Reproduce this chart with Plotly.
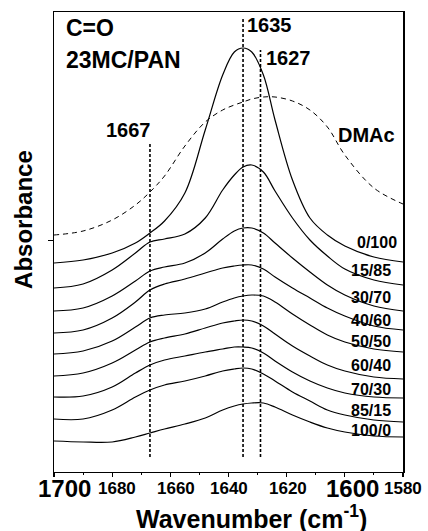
import plotly.graph_objects as go

# ---- data (absorbance in arbitrary, offset units) ----
wavenumber = [1700, 1690, 1680, 1672, 1667, 1662, 1655, 1648, 1642, 1638,
              1635, 1632, 1628, 1624, 1618, 1612, 1606, 1600, 1590, 1580]

dmac = [2.37, 2.41, 2.52, 2.67, 2.80, 2.96, 3.26, 3.50, 3.62, 3.67,
        3.70, 3.73, 3.75, 3.75, 3.71, 3.62, 3.45, 3.17, 2.84, 2.68]

abs_0_100 = [2.09, 2.12, 2.19, 2.29, 2.39, 2.51, 2.79, 3.42, 3.97, 4.20,
             4.24, 4.20, 3.97, 3.52, 2.92, 2.54, 2.37, 2.26, 2.15, 2.10]
abs_15_85 = [1.84, 1.88, 2.02, 2.19, 2.30, 2.33, 2.38, 2.54, 2.82, 2.97,
             3.05, 3.07, 3.00, 2.81, 2.54, 2.32, 2.16, 2.03, 1.92, 1.87]
abs_30_70 = [1.61, 1.64, 1.76, 1.91, 2.01, 2.05, 2.09, 2.19, 2.33, 2.41,
             2.44, 2.44, 2.39, 2.29, 2.14, 2.00, 1.87, 1.77, 1.66, 1.61]
abs_40_60 = [1.39, 1.42, 1.54, 1.70, 1.82, 1.88, 1.93, 1.99, 2.04, 2.06,
             2.07, 2.07, 2.03, 1.95, 1.84, 1.74, 1.64, 1.56, 1.46, 1.42]
abs_50_50 = [1.18, 1.21, 1.31, 1.45, 1.54, 1.57, 1.59, 1.63, 1.70, 1.74,
             1.76, 1.77, 1.76, 1.70, 1.58, 1.47, 1.37, 1.30, 1.23, 1.20]
abs_60_40 = [0.96, 0.99, 1.09, 1.22, 1.30, 1.34, 1.38, 1.44, 1.49, 1.51,
             1.52, 1.51, 1.46, 1.38, 1.26, 1.16, 1.07, 1.01, 0.95, 0.93]
abs_70_30 = [0.75, 0.76, 0.85, 0.99, 1.07, 1.12, 1.16, 1.20, 1.23, 1.25,
             1.25, 1.24, 1.19, 1.11, 1.00, 0.91, 0.84, 0.79, 0.75, 0.74]
abs_85_15 = [0.53, 0.53, 0.62, 0.75, 0.82, 0.87, 0.91, 0.96, 1.01, 1.03,
             1.04, 1.03, 0.98, 0.91, 0.80, 0.71, 0.62, 0.57, 0.52, 0.50]
abs_100_0 = [0.31, 0.30, 0.30, 0.35, 0.39, 0.43, 0.48, 0.54, 0.62, 0.66,
             0.68, 0.69, 0.69, 0.65, 0.57, 0.50, 0.44, 0.40, 0.36, 0.35]

blend_labels = ["0/100", "15/85", "30/70", "40/60", "50/50",
                "60/40", "70/30", "85/15", "100/0"]
blend_spectra = [abs_0_100, abs_15_85, abs_30_70, abs_40_60, abs_50_50,
                 abs_60_40, abs_70_30, abs_85_15, abs_100_0]

peak_positions = [1667, 1635, 1629]
peak_labels = ["1667", "1635", "1627"]

tick_values = [1700, 1680, 1660, 1640, 1620, 1600, 1580]
tick_labels = ["1700", "1680", "1660", "1640", "1620", "1600", "1580"]
big_ticks = [1700, 1600]

# ---- layout / styling ----
FONT = "Liberation Sans, Arial, Helvetica, sans-serif"
peak_line_top = [3.30, 4.55, 4.22]
peak_line_bottom = 0.15
blend_label_y = [2.30, 2.02, 1.75, 1.52, 1.31, 1.07, 0.83, 0.62, 0.42]

fig = go.Figure()

# DMAc reference spectrum (dashed)
fig.add_trace(go.Scatter(
    x=wavenumber, y=dmac, mode="lines",
    line=dict(color="black", width=1, dash="5px,4px", shape="spline", smoothing=1.0),
    hoverinfo="skip", showlegend=False))

# blend spectra
for lab, spec in zip(blend_labels, blend_spectra):
    fig.add_trace(go.Scatter(
        x=wavenumber, y=spec, mode="lines", name=lab,
        line=dict(color="black", width=1.2, shape="spline", smoothing=1.0),
        showlegend=False))

# dotted peak-position lines
for pos, top in zip(peak_positions, peak_line_top):
    fig.add_trace(go.Scatter(
        x=[pos, pos], y=[peak_line_bottom, top], mode="lines",
        line=dict(color="black", width=1.6, dash="3px,2px"),
        hoverinfo="skip", showlegend=False))

annotations = []

peak_label_style = {
    "1667": dict(xanchor="right", xshift=3, y=3.42),
    "1635": dict(xanchor="left", xshift=2, y=4.47),
    "1627": dict(xanchor="left", xshift=4, y=4.14),
}
for pos, lab in zip(peak_positions, peak_labels):
    st = peak_label_style[lab]
    annotations.append(dict(
        x=pos, y=st["y"], xref="x", yref="y", text="<b>%s</b>" % lab,
        showarrow=False, xanchor=st["xanchor"], yanchor="middle", xshift=st["xshift"],
        font=dict(family=FONT, size=20, color="black")))

annotations.append(dict(
    x=1580, y=3.37, xref="x", yref="y", text="<b>DMAc</b>", showarrow=False,
    xanchor="right", yanchor="middle", xshift=-6,
    font=dict(family=FONT, size=20, color="black")))

for lab, ly in zip(blend_labels, blend_label_y):
    annotations.append(dict(
        x=1580, y=ly, xref="x", yref="y", text="<b>%s</b>" % lab,
        showarrow=False, xanchor="right", yanchor="middle",
        xshift=-10 if lab != "0/100" else -4,
        font=dict(family=FONT, size=16, color="black")))

annotations.append(dict(
    x=1700, y=4.44, xref="x", yref="y", text="<b>C=O</b>", showarrow=False,
    xanchor="left", yanchor="middle", xshift=10,
    font=dict(family=FONT, size=23, color="black")))
annotations.append(dict(
    x=1700, y=4.12, xref="x", yref="y", text="<b>23MC/PAN</b>", showarrow=False,
    xanchor="left", yanchor="middle", xshift=10,
    font=dict(family=FONT, size=23, color="black")))

tick_shift = {1700: 10, 1680: 5, 1660: 6, 1640: 0, 1620: 1, 1600: 8, 1580: 0}
for tv, tl in zip(tick_values, tick_labels):
    big = tv in big_ticks
    annotations.append(dict(
        x=tv, y=0, xref="x", yref="paper", text="<b>%s</b>" % tl, showarrow=False,
        xanchor="center", yanchor="middle", yshift=-16, xshift=tick_shift[tv],
        font=dict(family=FONT, size=24 if big else 17, color="black")))

annotations.append(dict(
    x=0.567, y=0, xref="paper", yref="paper",
    text="<b>Wavenumber (cm<sup>-1</sup>)</b>", showarrow=False,
    xanchor="center", yanchor="middle", yshift=-45,
    font=dict(family=FONT, size=25, color="black")))
annotations.append(dict(
    x=0, y=0.548, xref="paper", yref="paper", text="<b>Absorbance</b>",
    showarrow=False, textangle=-90, xanchor="center", yanchor="middle", xshift=-30,
    font=dict(family=FONT, size=24, color="black")))

fig.update_layout(
    width=428, height=531,
    margin=dict(l=54, r=25, t=12, b=59),
    paper_bgcolor="white", plot_bgcolor="white",
    annotations=annotations,
    xaxis=dict(
        range=[1700, 1580], showgrid=False, zeroline=False,
        showline=True, linecolor="black", linewidth=1.3, mirror=True,
        tickvals=tick_values, ticks="outside", ticklen=4, tickwidth=1.2, tickcolor="black",
        showticklabels=False,
        minor=dict(dtick=10, tick0=1580, ticks="outside", ticklen=2, tickcolor="black", tickwidth=1),
    ),
    yaxis=dict(
        range=[0, 4.6], showgrid=False, zeroline=False,
        showline=True, linecolor="black", linewidth=1.5, mirror=True,
        tickvals=[2.32], ticks="outside", ticklen=5, tickcolor="black",
        showticklabels=False,
    ),
)

fig.write_html(
    "out.html",
    config={"displayModeBar": False, "staticPlot": True},
    post_script="document.body.style.margin='0';document.body.style.overflow='hidden';",
)
